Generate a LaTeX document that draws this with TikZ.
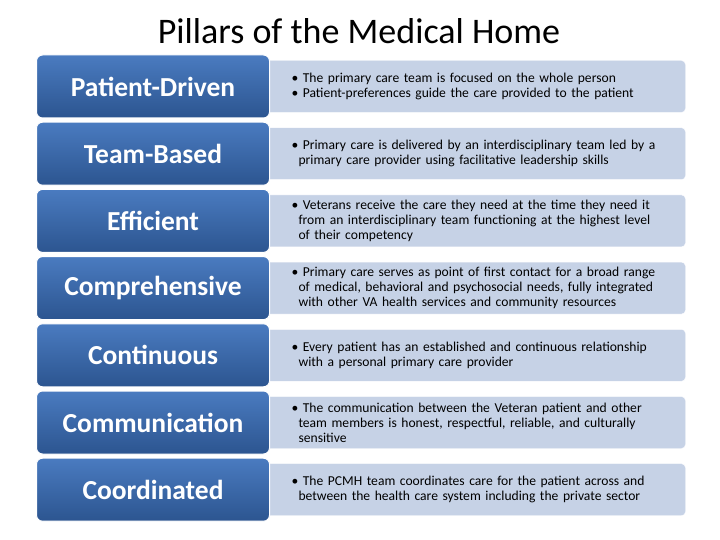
\documentclass[tikz,border=0pt]{standalone}
\usepackage{fontspec}
\setmainfont{Carlito}
\usetikzlibrary{positioning}
\definecolor{pillarTop}{HTML}{4A7BC0}
\definecolor{pillarBot}{HTML}{2C5590}
\definecolor{noteFill}{HTML}{C6D2E6}
\tikzstyle{pillarStyle}=[shape = rectangle, rounded corners = 6pt, minimum width = 233pt, minimum height = 63pt, top color = pillarTop, bottom color = pillarBot, draw = white, line width = 1pt, text = white, font = \fontsize{27.5}{30}\selectfont\bfseries]
\tikzstyle{noteStyle}=[shape = rectangle, rounded corners = 4pt, minimum width = 423pt, minimum height = 52pt, fill = noteFill, draw = white, inner sep = 0pt]
\tikzstyle{noteText}=[text width = 400pt, align = left, font = \fontsize{13.6}{15}\selectfont, anchor = west]
\begin{document}
\begin{tikzpicture}[x = 1pt, y = -1pt]
\useasboundingbox (0,0) rectangle (720,540);
\node[font = \fontsize{36}{40}\selectfont] (title) at (359,31) {Pillars of the Medical Home};
\foreach \i/\name/\note in {
0/Patient-Driven/{\textbullet\ The primary care team is focused on the whole person\\ \textbullet\ Patient-preferences guide the care provided to the patient},
1/Team-Based/{\textbullet\ Primary care is delivered by an interdisciplinary team led by a\\ \hspace*{7pt}primary care provider using facilitative leadership skills},
2/Efficient/{\textbullet\ Veterans receive the care they need at the time they need it\\ \hspace*{7pt}from an interdisciplinary team functioning at the highest level\\ \hspace*{7pt}of their competency},
3/Comprehensive/{\textbullet\ Primary care serves as point of first contact for a broad range\\ \hspace*{7pt}of medical, behavioral and psychosocial needs, fully integrated\\ \hspace*{7pt}with other VA\ health services and community resources},
4/Continuous/{\textbullet\ Every patient has an established and continuous relationship\\ \hspace*{7pt}with a personal primary care provider},
5/Communication/{\textbullet\ The communication between the Veteran patient and other\\ \hspace*{7pt}team members is honest, respectful, reliable, and culturally\\ \hspace*{7pt}sensitive},
6/Coordinated/{\textbullet\ The PCMH team coordinates care for the patient across and\\ \hspace*{7pt}between the health care system including the private sector}}
{
\node[noteStyle] (r\i) at (474,{86.5+67.2*\i}) {};
\node[noteText] (t\i) at (288,{86.5+67.2*\i}) {\note};
\node[pillarStyle] (l\i) at (153,{86.5+67.2*\i}) {\name};
}
\end{tikzpicture}
\end{document}
